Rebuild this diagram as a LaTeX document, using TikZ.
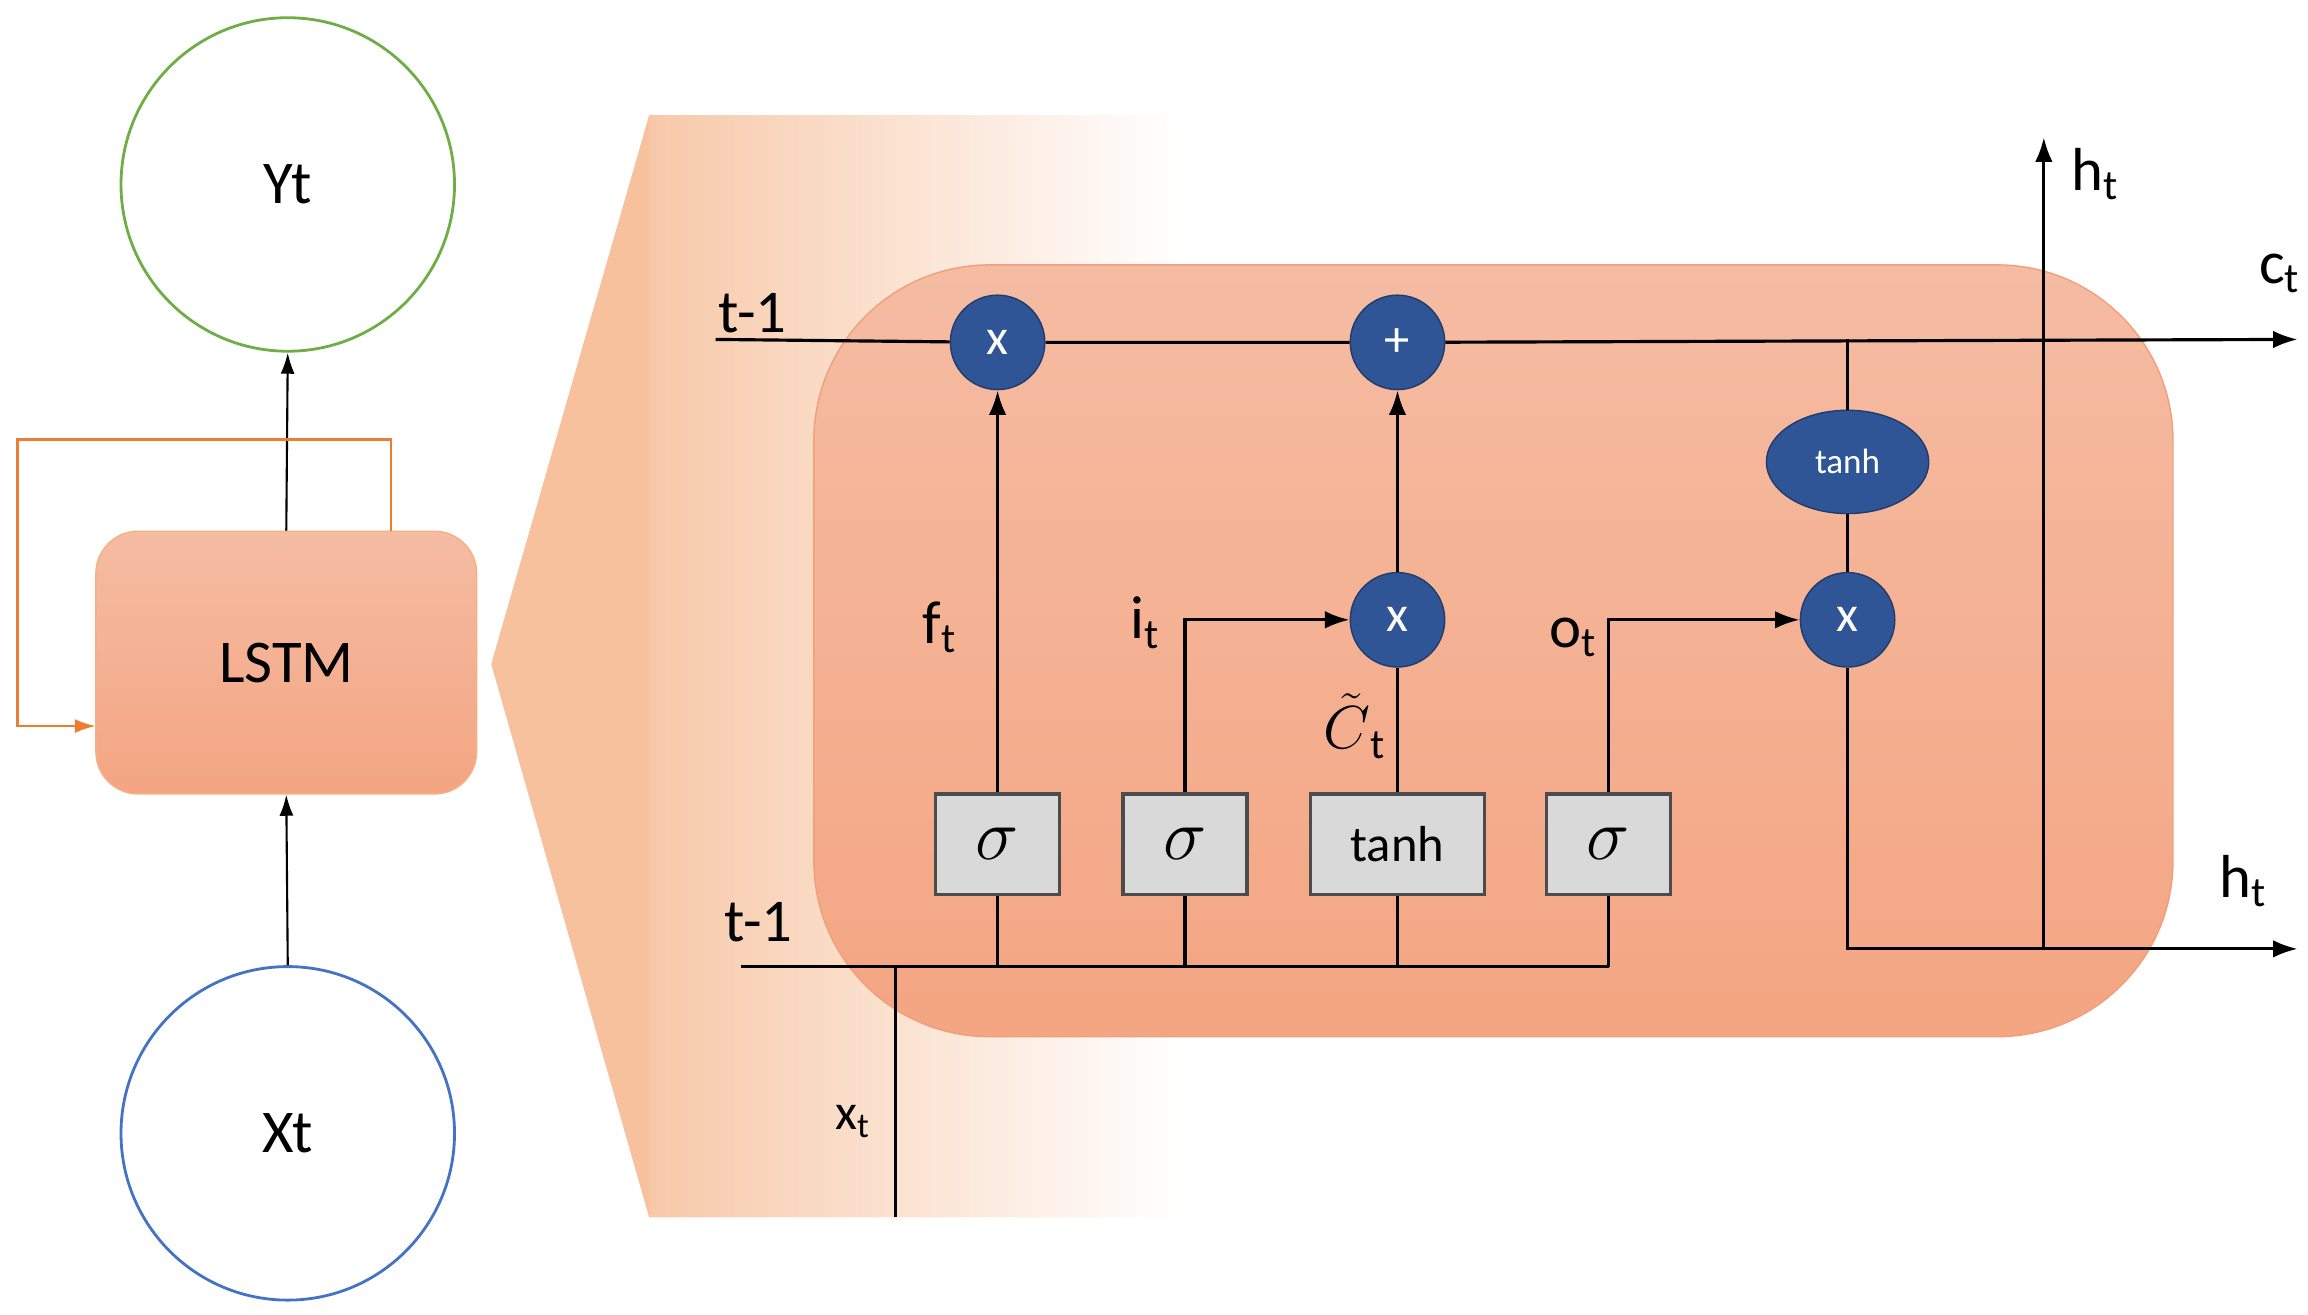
\documentclass[tikz,border=0pt]{standalone}
\usepackage{fontspec}
\setmainfont{Carlito}
\usetikzlibrary{arrows.meta,shapes.geometric}
\definecolor{navy}{HTML}{2F5597}
\definecolor{salm}{HTML}{F4A582}
\definecolor{salmt}{HTML}{F5BCA3}
\definecolor{peach}{HTML}{F4B183}
\definecolor{gbox}{HTML}{D9D9D9}
\definecolor{grn}{RGB}{112,173,71}
\definecolor{blu}{RGB}{68,114,196}
\definecolor{lbord}{RGB}{244,177,131}
\definecolor{loopc}{RGB}{237,125,49}
\definecolor{cbord}{RGB}{240,160,120}
\begin{document}
\begin{tikzpicture}[x=0.01476cm,y=-0.01476cm,
 ln/.style={line width=0.9pt,black},
 ar/.style={ln,-{Latex[length=7pt,width=5pt]}},
 op/.style={circle,fill=navy,draw=navy!70!black,minimum size=64*0.01476cm,inner sep=0,text=white,font=\Large},
 gate/.style={rectangle,fill=gbox,draw=black!70,line width=1pt,minimum height=68*0.01476cm,inner sep=0,font=\Large},
 lab/.style={font=\LARGE}]
\useasboundingbox (0,0) rectangle (1564,891);
% left part
\node[circle,draw=grn,line width=0.8pt,minimum size=226*0.01476cm,font=\LARGE] (Y) at (195,125) {Yt};
\node[circle,draw=blu,line width=0.8pt,minimum size=226*0.01476cm,font=\LARGE] (X) at (195,768) {Xt};
\node[rectangle,rounded corners=12pt,draw=lbord,top color=salmt,bottom color=salm,minimum width=258*0.01476cm,minimum height=178*0.01476cm,font=\LARGE] (L) at (194,449) {LSTM};
\draw[-{Latex[length=6pt,width=4pt]},line width=0.6pt] (X.north) -- (L.south);
\draw[-{Latex[length=6pt,width=4pt]},line width=0.6pt] (L.north) -- (Y.south);
\coordinate (lp) at (65,492);
\draw[loopc,line width=0.8pt,-{Latex[length=6pt,width=4pt]}] (265,360) -- (265,298) -- (12,298) -- (12,492) -- (lp);
% zoom trapezoid
\shade[left color=peach!90!white,right color=white,draw=none] (333,450) -- (440,78) -- (800,78) -- (800,825) -- (440,825) -- cycle;
\fill[peach!80!white] (333,450) -- (440,78) -- (440,825) -- cycle;
% inner cell
\node[rectangle,rounded corners=50pt,top color=salmt,bottom color=salm,draw=cbord,minimum width=921*0.01476cm,minimum height=523*0.01476cm] (C) at (1012,441) {};
% nodes
\node[op] (m1) at (676,232) {x};
\node[op] (p1) at (947,232) {+};
\node[op] (m2) at (947,420) {x};
\node[op] (m3) at (1252,420) {x};
\node[ellipse,fill=navy,draw=navy!70!black,minimum width=110*0.01476cm,minimum height=70*0.01476cm,inner sep=0,text=white,font=\normalsize] (th) at (1252,313) {tanh};
\node[gate,minimum width=84*0.01476cm,font=\huge] (g1) at (676,572) {$\sigma$};
\node[gate,minimum width=84*0.01476cm,font=\huge] (g2) at (803,572) {$\sigma$};
\node[gate,minimum width=118*0.01476cm] (g3) at (947,572) {tanh};
\node[gate,minimum width=84*0.01476cm,font=\huge] (g4) at (1090,572) {$\sigma$};
% cell line
\coordinate (cs) at (485,230); \coordinate (ce) at (1557,230);
\draw[ln] (cs) -- (m1) -- (p1);
\draw[ar] (p1) -- (ce);
\coordinate (tj) at (1252,230);
\draw[ln] (tj) -- (th) -- (m3);
\node[lab] at (510,212) {t-1};
\node[lab] at (1545,185) {c$_\mathrm{t}$};
% bottom line
\coordinate (bs) at (502,655); \coordinate (be) at (1090,655);
\draw[ln] (bs) -- (be);
\foreach \g in {g1,g2,g3,g4} \draw[ln] (\g.south) -- (\g.south |- bs);
\node[lab] at (514,625) {t-1};
\coordinate (xb) at (607,825); \coordinate (xt) at (607,655);
\draw[ln] (xb) -- (xt);
\node[font=\Large] at (578,760) {x$_\mathrm{t}$};
% gates
\draw[ar] (g1) -- (m1);
\node[lab] at (637,425) {f$_\mathrm{t}$};
\draw[ar] (g2.north) |- (m2);
\node[lab] at (776,422) {i$_\mathrm{t}$};
\draw[ln] (g3) -- (m2);
\node[lab,inner sep=0] at (918,492) {$\tilde{C}$$_\mathrm{t}$};
\draw[ar] (m2) -- (p1);
\draw[ar] (g4.north) |- (m3);
\node[lab] at (1066,432) {o$_\mathrm{t}$};
% output
\coordinate (hc) at (1252,643); \coordinate (he) at (1557,643);
\coordinate (hv) at (1385,643); \coordinate (ht) at (1385,93);
\draw[ar] (m3) -- (hc) -- (he);
\draw[ar] (hv) -- (ht);
\node[lab] at (1520,597) {h$_\mathrm{t}$};
\node[lab] at (1420,118) {h$_\mathrm{t}$};
\end{tikzpicture}
\end{document}
